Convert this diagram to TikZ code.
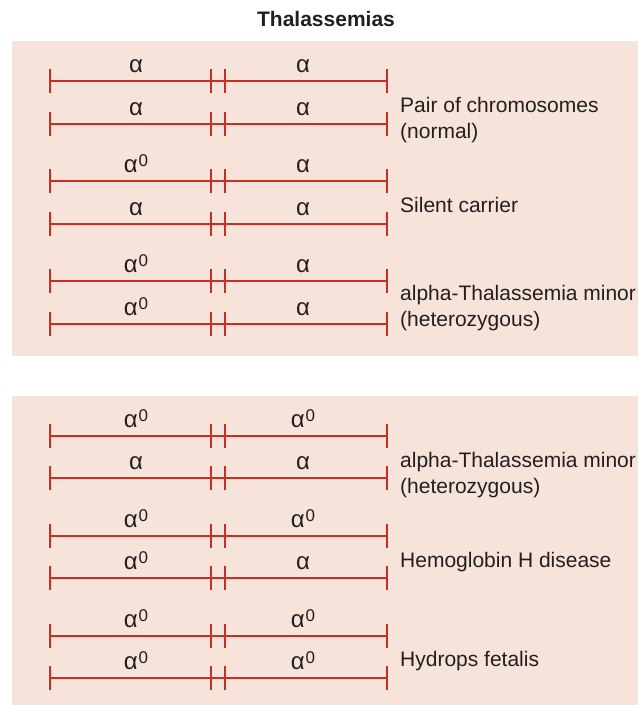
\documentclass[tikz,border=0pt]{standalone}
\usepackage{fontspec}
\setmainfont{Liberation Sans}
\definecolor{peach}{RGB}{246,227,217}
\definecolor{chromred}{RGB}{204,45,35}
\definecolor{txt}{RGB}{35,31,32}
\newcommand\aO{α\hspace{1pt}\raisebox{6pt}{\fontsize{17}{17}\selectfont 0}}
\newcommand\chromrow[4]{%
  \draw[chromline] (50,#2) -- (387,#2);
  \foreach \xx in {50,211,225,387} {\draw[chromline] (\xx,#2-12) -- (\xx,#2+12);}
  \node[allele] (#1L) at (136,#2-8.5) {#3};
  \node[allele] (#1R) at (303,#2-8.5) {#4};
}
\begin{document}
\begin{tikzpicture}[x=1pt,y=-1pt,
  chromline/.style={draw=chromred,line width=2pt},
  allele/.style={anchor=base,inner sep=0pt,text=txt,font=\fontsize{24}{24}\selectfont},
  caption/.style={anchor=base west,inner sep=0pt,text=txt,font=\fontsize{21}{26}\selectfont},
]
\useasboundingbox (0,0) rectangle (638,705);
\fill[peach] (12,41) rectangle (638,355.7);
\fill[peach] (12,395.7) rectangle (638,705);
\node[anchor=base,inner sep=0pt,text=txt,font=\bfseries\fontsize{21}{21}\selectfont] (title) at (326,26.7) {Thalassemias};
% panel 1
\chromrow{a1}{80.7}{α}{α}
\chromrow{a2}{124}{α}{α}
\chromrow{a3}{181}{\aO}{α}
\chromrow{a4}{223.7}{α}{α}
\chromrow{a5}{281}{\aO}{α}
\chromrow{a6}{324}{\aO}{α}
\node[caption] (c1a) at (400,112.3) {Pair of chromosomes};
\node[caption] (c1b) at (400,138.3) {(normal)};
\node[caption] (c2) at (400,212.3) {Silent carrier};
\node[caption] (c3a) at (400,300) {alpha-Thalassemia minor};
\node[caption] (c3b) at (400,326) {(heterozygous)};
% panel 2
\chromrow{b1}{435.7}{\aO}{\aO}
\chromrow{b2}{478.3}{α}{α}
\chromrow{b3}{535.7}{\aO}{\aO}
\chromrow{b4}{578.3}{\aO}{α}
\chromrow{b5}{636}{\aO}{\aO}
\chromrow{b6}{678.3}{\aO}{\aO}
\node[caption] (c4a) at (400,467.3) {alpha-Thalassemia minor};
\node[caption] (c4b) at (400,493) {(heterozygous)};
\node[caption] (c5) at (400,567.3) {Hemoglobin H disease};
\node[caption] (c6) at (400,666.7) {Hydrops fetalis};
\end{tikzpicture}
\end{document}
